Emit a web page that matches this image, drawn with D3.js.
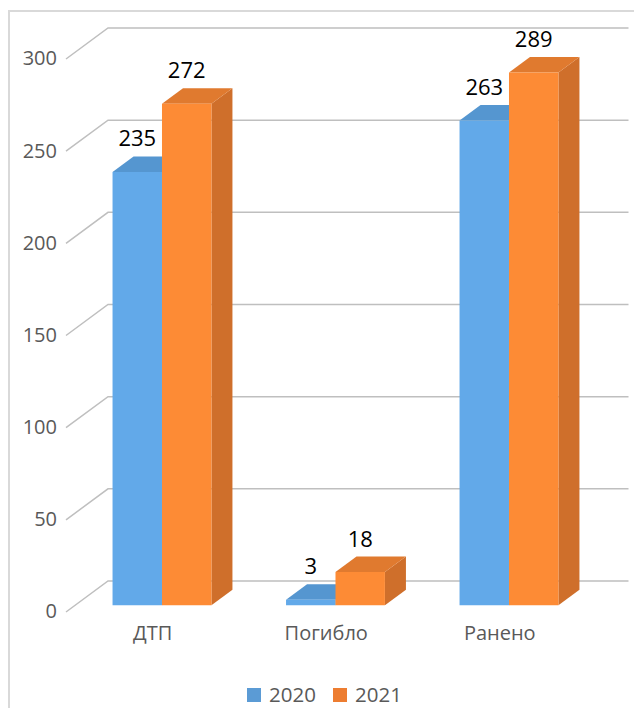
<!DOCTYPE html>
<html><head><meta charset="utf-8">
<script src="https://cdn.jsdelivr.net/npm/d3@7"></script>
<style>html,body{margin:0;padding:0;background:#fff;}svg{display:block;}</style>
</head><body>
<script>
const categories = ["ДТП", "Погибло", "Ранено"];
const years = ["2020", "2021"];
const values2020 = [235, 3, 263];
const values2021 = [272, 18, 289];
const yTicks = [0, 50, 100, 150, 200, 250, 300];

const W = 634, H = 708;
const FONT = "'Open Sans', 'Noto Sans', sans-serif";
const svg = d3.select("body").append("svg").attr("width", W).attr("height", H);

// frame
svg.append("line").attr("x1", 9).attr("x2", 9).attr("y1", 10).attr("y2", H).attr("stroke", "#d9d9d9").attr("stroke-width", 2);
svg.append("line").attr("x1", 8).attr("x2", W).attr("y1", 11).attr("y2", 11).attr("stroke", "#d9d9d9").attr("stroke-width", 2);

// front-plane scales
const x0 = d3.scaleBand().domain(categories).range([66, 586.5]).paddingInner(0.43).paddingOuter(0.215);
const x1 = d3.scaleBand().domain(years).range([0, x0.bandwidth()]);
const y = d3.scaleLinear().domain([0, 300]).range([612, 59]);
const DX = 42, DY = -31; // full depth offset
const d0 = 0.22, d1 = 0.72;
const P = (x, v, d) => [x + d * DX, y(v) + d * DY];

// gridlines (side wall diagonal + back wall)
const g = svg.append("g");
yTicks.forEach(t => {
  const a = P(66, t, 0), b = P(66, t, 1), c = P(586.5, t, 1);
  g.append("polyline").attr("points", [a, b, c].map(p => p.join(",")).join(" "))
    .attr("fill", "none").attr("stroke", "#bfbfbf").attr("stroke-width", 1.5);
  g.append("text").attr("x", 57).attr("y", y(t) + 1).attr("text-anchor", "end")
    .attr("dominant-baseline", "middle").attr("font-family", FONT).attr("font-size", 20)
    .attr("fill", "#595959").text(t);
});

const colors = {
  "2020": { front: "#62a9e9", top: "#5596d0", side: "#4d86bb" },
  "2021": { front: "#fd8b35", top: "#e07a2f", side: "#cf6f2b" }
};
const series = { "2020": values2020, "2021": values2021 };
const poly = pts => pts.map(p => p.join(",")).join(" ");

const bars = svg.append("g");
const labels = [];
categories.forEach((cat, i) => {
  years.forEach(yr => {
    const v = series[yr][i];
    const xl = x0(cat) + x1(yr), xr = xl + x1.bandwidth();
    const c = colors[yr];
    bars.append("polygon").attr("points", poly([P(xr, 0, d0), P(xr, 0, d1), P(xr, v, d1), P(xr, v, d0)])).attr("fill", c.side);
    bars.append("polygon").attr("points", poly([P(xl, v, d0), P(xr, v, d0), P(xr, v, d1), P(xl, v, d1)])).attr("fill", c.top);
    bars.append("polygon").attr("points", poly([P(xl, 0, d0), P(xr, 0, d0), P(xr, v, d0), P(xl, v, d0)])).attr("fill", c.front);
    const fc = P((xl + xr) / 2, v, d0)[0];
    labels.push({ x: fc, y: P(xl, v, d1)[1] - 10, t: v });
  });
});
svg.append("g").selectAll("text").data(labels).join("text")
  .attr("x", d => d.x).attr("y", d => d.y).attr("text-anchor", "middle")
  .attr("font-family", FONT).attr("font-size", 22).attr("fill", "#000").text(d => d.t);

// category labels
svg.append("g").selectAll("text").data(categories).join("text")
  .attr("x", d => x0(d) + x0.bandwidth() / 2).attr("y", 640).attr("text-anchor", "middle")
  .attr("font-family", FONT).attr("font-size", 20).attr("fill", "#595959").text(d => d);

// legend
const leg = svg.append("g");
const legX = [247, 333];
years.forEach((yr, i) => {
  leg.append("rect").attr("x", legX[i]).attr("y", 688).attr("width", 14).attr("height", 14).attr("fill", yr === "2020" ? "#5b9bd5" : "#ed7d31");
  leg.append("text").attr("x", legX[i] + 22).attr("y", 702).attr("font-family", FONT).attr("font-size", 20.5)
    .attr("fill", "#595959").text(yr);
});
</script>
</body></html>
